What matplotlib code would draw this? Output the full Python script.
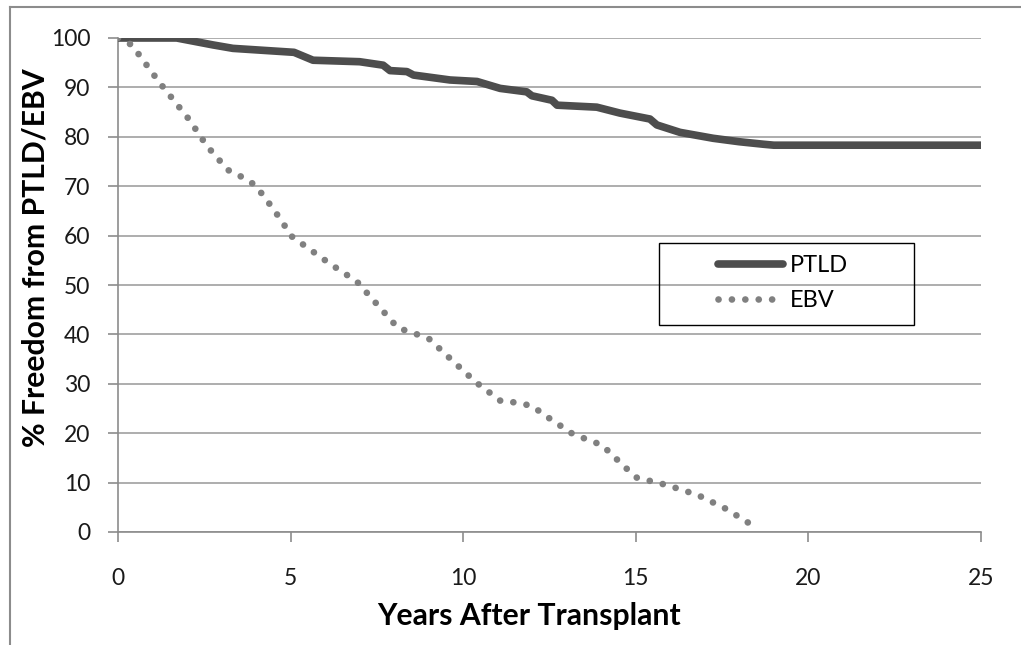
import matplotlib.pyplot as plt
from matplotlib.lines import Line2D
from matplotlib.patches import Rectangle

# PTLD curve (years, % free)
ptld_years = [0, 1.7, 2.75, 3.33, 5.1, 5.65, 7.0, 7.68, 7.88, 8.37, 8.56, 9.62, 10.4,
              11.07, 11.84, 11.99, 12.57, 12.72, 13.87, 14.54, 15.41, 15.61, 16.28,
              17.24, 18.0, 18.69, 19.0, 25]
ptld_pct = [100, 100, 98.6, 97.9, 97.1, 95.5, 95.2, 94.5, 93.4, 93.2, 92.5, 91.5, 91.2,
            89.8, 89.1, 88.3, 87.4, 86.4, 86.0, 84.8, 83.6, 82.4, 80.9,
            79.7, 79.0, 78.5, 78.3, 78.3]

# EBV curve
ebv_years = [0, 0.4, 1.2, 2.06, 2.57, 3.18, 3.58, 3.98, 4.52, 5.04, 6.14, 6.92, 8.11, 8.55,
             9.01, 9.7, 10.37, 11.09, 11.55, 12.0, 12.37, 13.14, 13.56, 14.02, 14.69,
             15.03, 15.9, 16.79, 17.61, 18.39]
ebv_pct = [100, 98.6, 91.0, 83.5, 78.2, 73.3, 71.9, 70.2, 65.2, 59.8, 54.3, 50.7, 41.3, 40.3,
           39.1, 34.6, 30.3, 26.5, 26.2, 25.5, 23.6, 20.0, 18.8, 17.6, 13.1,
           11.0, 9.5, 7.5, 4.7, 1.3]

x_ticks = [0, 5, 10, 15, 20, 25]
y_ticks = list(range(0, 101, 10))

plt.rcParams['font.family'] = ['Lato', 'DejaVu Sans']

W, H = 1021, 645
fig = plt.figure(figsize=(W / 100, H / 100), dpi=100)
ax = fig.add_axes([118 / W, 1 - 532 / H, (981 - 118) / W, (532 - 38) / H])

ax.plot(ptld_years, ptld_pct, color='#4d4d4d', lw=5.5, solid_capstyle='butt',
        solid_joinstyle='round', label='PTLD', zorder=3)
ax.plot(ebv_years, ebv_pct, color='#808080', lw=4.8, linestyle=(0, (0.01, 2.0)),
        dash_capstyle='round', label='EBV', zorder=3)

ax.set_xlim(0, 25)
ax.set_ylim(0, 100)
ax.set_xticks(x_ticks)
ax.set_yticks(y_ticks)
ax.grid(axis='y', color='#a0a0a0', lw=1.2)
ax.set_axisbelow(True)

for s in ['top', 'right']:
    ax.spines[s].set_visible(False)
for s in ['left', 'bottom']:
    ax.spines[s].set_color('#8c8c8c')
    ax.spines[s].set_linewidth(1.2)

ax.tick_params(axis='both', color='#8c8c8c', length=7, width=1.2, labelsize=16.5,
               labelcolor='#1a1a1a')
ax.tick_params(axis='x', pad=19)
ax.tick_params(axis='y', pad=13)

ax.set_xlabel('Years After Transplant', fontsize=21.7, fontweight='bold')
ax.set_ylabel('% Freedom from PTLD/EBV', fontsize=21.7, fontweight='bold')
ax.xaxis.set_label_coords((529 - 118) / 863, (532 - 602) / 494)
ax.yaxis.set_label_coords((50 - 118) / 863, (532 - 258) / 494)

leg = ax.legend(loc='center left', bbox_to_anchor=(718 / W, 1 - 283 / H),
                bbox_transform=fig.transFigure, fontsize=17, frameon=False,
                handlelength=2.75, borderpad=0, labelspacing=0.6, handletextpad=0.3,
                borderaxespad=0)
leg.legend_handles[0].set_solid_capstyle('round')

# legend box (wider than its content, as drawn in the source)
fig.add_artist(Rectangle((659 / W, 1 - 325 / H), (914 - 659) / W, (325 - 243) / H,
                         transform=fig.transFigure, fill=False, edgecolor='black', lw=1.0))

# outer chart frame (left and top edges visible)
fig.add_artist(Line2D([10 / W, 10 / W], [0, 1 - 7 / H], color='#8c8c8c',
                      lw=1.5, transform=fig.transFigure))
fig.add_artist(Line2D([10 / W, 1], [1 - 7 / H, 1 - 7 / H], color='#8c8c8c',
                      lw=1.5, transform=fig.transFigure))

fig.savefig('out.png', dpi=100)
